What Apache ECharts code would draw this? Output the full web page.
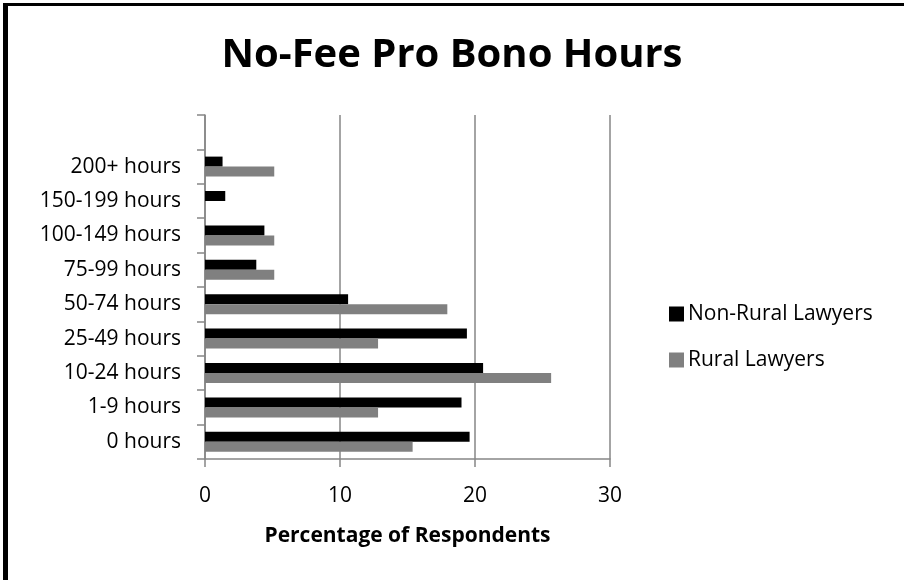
<!DOCTYPE html>
<html>
<head>
<meta charset="utf-8">
<script src="https://cdn.jsdelivr.net/npm/echarts@6/dist/echarts.min.js"></script>
<style>
  html, body { margin: 0; padding: 0; background: #fff; }
  #chart { width: 904px; height: 580px; }
</style>
</head>
<body>
<div id="chart"></div>
<script>
// categories bottom to top, last one is the empty slot above 200+
var categories = ['0 hours', '1-9 hours', '10-24 hours', '25-49 hours', '50-74 hours',
  '75-99 hours', '100-149 hours', '150-199 hours', '200+ hours', '']
var nonRural = [19.6, 19.0, 20.6, 19.4, 10.6, 3.8, 4.4, 1.5, 1.3, null]
var rural = [15.38, 12.82, 25.64, 12.82, 17.95, 5.13, 5.13, 0, 5.13, null]
var xTicks = [0, 10, 20, 30]

var font = '"Open Sans", "DejaVu Sans", sans-serif'
var chart = echarts.init(document.getElementById('chart'))
chart.setOption({
  animation: false,
  backgroundColor: '#fff',
  title: {
    text: 'No-Fee Pro Bono Hours',
    left: 'center',
    top: 31,
    textStyle: { fontFamily: font, fontWeight: 'bold', fontSize: 40, color: '#000' }
  },
  legend: {
    orient: 'vertical',
    left: 664,
    top: 298,
    itemWidth: 15,
    itemHeight: 15,
    itemGap: 24,
    icon: 'rect',
    textStyle: { fontFamily: font, fontSize: 21, lineHeight: 22, color: '#000', padding: [0, 0, 0, -1] },
    data: ['Non-Rural Lawyers', 'Rural Lawyers']
  },
  grid: { left: 205, right: 294, top: 115, bottom: 121 },
  xAxis: {
    type: 'value',
    min: xTicks[0],
    max: xTicks[xTicks.length - 1],
    interval: 10,
    name: 'Percentage of Respondents',
    nameLocation: 'middle',
    nameGap: 67,
    nameTextStyle: { fontFamily: font, fontWeight: 'bold', fontSize: 21, color: '#000' },
    axisLine: { show: true, lineStyle: { color: '#868686', width: 1.5 } },
    axisTick: { show: true, length: 8, lineStyle: { color: '#868686', width: 1.5 } },
    axisLabel: { fontFamily: font, fontSize: 21, color: '#000', margin: 27 },
    splitLine: { show: true, lineStyle: { color: '#868686', width: 1.5 } }
  },
  yAxis: {
    type: 'category',
    data: categories,
    axisLine: { show: true, lineStyle: { color: '#868686', width: 1.5 } },
    axisTick: { show: true, length: 8, lineStyle: { color: '#868686', width: 1.5 } },
    axisLabel: { fontFamily: font, fontSize: 21, color: '#000', margin: 24 },
    splitLine: { show: false }
  },
  series: [
    {
      name: 'Non-Rural Lawyers',
      type: 'bar',
      data: nonRural,
      barWidth: 10,
      barGap: '0%',
      itemStyle: { color: '#000' }
    },
    {
      name: 'Rural Lawyers',
      type: 'bar',
      data: rural,
      barWidth: 10,
      barGap: '0%',
      itemStyle: { color: '#808080' }
    }
  ],
  graphic: [
    { type: 'rect', shape: { x: 3, y: 3, width: 5, height: 580 }, style: { fill: '#000' } },
    { type: 'rect', shape: { x: 3, y: 3, width: 904, height: 3 }, style: { fill: '#000' } }
  ]
})
</script>
</body>
</html>
